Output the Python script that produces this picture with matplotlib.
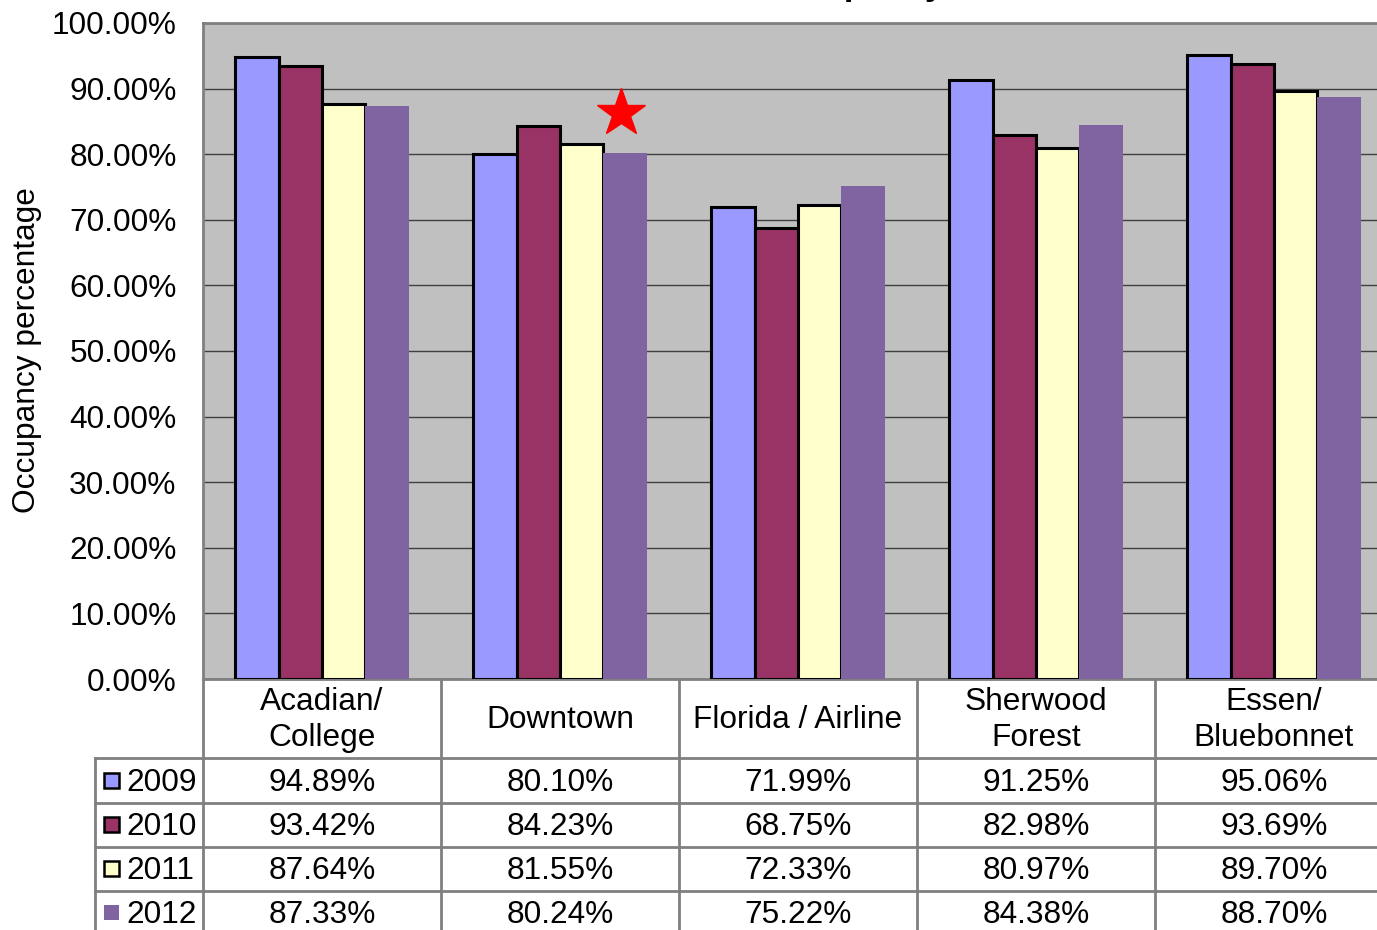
import matplotlib
matplotlib.use("Agg")
import matplotlib.pyplot as plt
from matplotlib.patches import Rectangle
import numpy as np

plt.rcParams['font.family'] = ['Liberation Sans', 'DejaVu Sans']

categories = ["Acadian/\nCollege", "Downtown", "Florida / Airline", "Sherwood\nForest", "Essen/\nBluebonnet"]
years = ["2009", "2010", "2011", "2012"]
v2009 = [94.89, 80.10, 71.99, 91.25, 95.06]
v2010 = [93.42, 84.23, 68.75, 82.98, 93.69]
v2011 = [87.64, 81.55, 72.33, 80.97, 89.70]
v2012 = [87.33, 80.24, 75.22, 84.38, 88.70]
series = [v2009, v2010, v2011, v2012]
colors = ["#9999FF", "#993366", "#FFFFCC", "#8064A2"]
edged = [True, True, True, False]
yticks = [0, 10, 20, 30, 40, 50, 60, 70, 80, 90, 100]
star_group, star_series, star_value = 1, 3, 86.3

FS = 22.8
W, H = 1377, 930
fig = plt.figure(figsize=(W / 100, H / 100), dpi=100)

ax = fig.add_axes([203 / W, (H - 679) / H, 1190 / W, 656 / H])
ax.set_facecolor("#C0C0C0")
x = np.arange(len(categories))
bw = 0.182
for i, (vals, c, e) in enumerate(zip(series, colors, edged)):
    ax.bar(x + (i - 1.5) * bw, vals, width=bw, color=c,
           edgecolor="black" if e else c, linewidth=2.2 if e else 0, zorder=3)
ax.plot(star_group + (star_series - 1.5) * bw - 0.015, star_value, marker="*",
        color="#FF0000", markersize=36, zorder=4, clip_on=False)
ax.set_xlim(-0.5, len(categories) - 0.5)
ax.set_ylim(0, 100)
ax.set_yticks(yticks)
ax.set_yticklabels([f"{t:.2f}%" for t in yticks], fontsize=FS)
ax.tick_params(axis="y", length=0, pad=19)
ax.set_xticks([])
ax.yaxis.grid(True, color="#404040", linewidth=1.0, zorder=1)
ax.set_axisbelow(True)
for s in ["left", "top"]:
    ax.spines[s].set_color("#808080")
    ax.spines[s].set_linewidth(2)
ax.spines["right"].set_visible(False)
ax.spines["bottom"].set_color("#808080")
ax.spines["bottom"].set_linewidth(2)
ax.set_ylabel("Occupancy percentage", fontsize=FS)
ax.yaxis.set_label_coords(-(203 - 42) / 1190, (679 - 350) / 656)

# Title (mostly cut off at top of the image)
fig.text(758 / W, (H + 5) / H, "Occupancy", fontsize=25, fontweight="bold",
         ha="left", va="baseline")

# Data table overlay in pixel coordinates
ov = fig.add_axes([0, 0, 1, 1], zorder=5)
ov.set_xlim(0, W)
ov.set_ylim(H, 0)
ov.axis("off")
ov.patch.set_alpha(0)
lc = "#808080"
lw = 2
colw = 238
x0 = 203
for k in range(len(categories) + 1):
    xx = x0 + colw * k
    ov.plot([xx, xx], [679, H], color=lc, lw=lw, solid_capstyle="butt")
ov.plot([95, 95], [758, H], color=lc, lw=lw)
for yy in [758, 803, 847, 891]:
    ov.plot([95, W], [yy, yy], color=lc, lw=lw)

for k, cat in enumerate(categories):
    cx = x0 + colw * (k + 0.5)
    ov.text(cx, 720, cat, ha="center", va="center", fontsize=FS, linespacing=1.3)

row_y = [783, 827, 871, 915]
for i, (vals, c, e, yr) in enumerate(zip(series, colors, edged, years)):
    ry = row_y[i]
    ov.add_patch(Rectangle((104, ry - 10), 15, 15, facecolor=c,
                           edgecolor="black" if e else c, lw=1.8 if e else 0))
    ov.text(126, ry, yr, ha="left", va="center", fontsize=FS)
    for k, v in enumerate(vals):
        cx = x0 + colw * (k + 0.5)
        ov.text(cx, ry, f"{v:.2f}%", ha="center", va="center", fontsize=FS)

fig.savefig("out.png", dpi=100)
